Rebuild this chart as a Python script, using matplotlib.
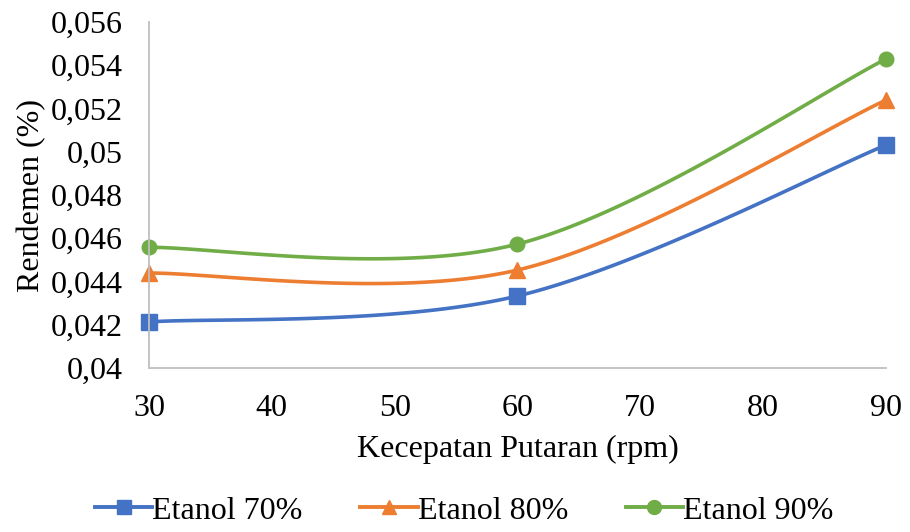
import numpy as np
import matplotlib
matplotlib.use("Agg")
import matplotlib.pyplot as plt
from matplotlib.ticker import FuncFormatter, MultipleLocator

x = [30, 60, 90]
etanol70 = [0.04213, 0.04333, 0.05031]
etanol80 = [0.04439, 0.04453, 0.05239]
etanol90 = [0.04558, 0.04573, 0.05429]
labels = ["Etanol 70%", "Etanol 80%", "Etanol 90%"]
colors = ["#4472C4", "#ED7D31", "#70AD47"]
markers = ["s", "^", "o"]

plt.rcParams['font.family'] = ['Liberation Serif', 'DejaVu Serif']


def smooth(xs, ys, n=60):
    P = np.column_stack([xs, ys]).astype(float)
    out = []
    m = len(P)
    for i in range(m - 1):
        p0 = P[i - 1] if i > 0 else P[i]
        p1 = P[i]
        p2 = P[i + 1]
        p3 = P[i + 2] if i + 2 < m else P[i + 1]
        c1 = p1 + (p2 - p0) / 6.0
        c2 = p2 - (p3 - p1) / 6.0
        t = np.linspace(0, 1, n)[:, None]
        seg = ((1 - t) ** 3) * p1 + 3 * ((1 - t) ** 2) * t * c1 + 3 * (1 - t) * t ** 2 * c2 + t ** 3 * p2
        out.append(seg if i == 0 else seg[1:])
    s = np.vstack(out)
    return s[:, 0], s[:, 1]


fig = plt.figure(figsize=(9.1, 5.32), dpi=100)
ax = fig.add_axes([0.1637, 0.3083, 0.8099, 0.6503])

for ys, lab, c, mk in zip([etanol70, etanol80, etanol90], labels, colors, markers):
    sx, sy = smooth(x, ys)
    ax.plot(sx, sy, color=c, lw=2.6, solid_capstyle='round')
    ax.plot(x, ys, linestyle='none', marker=mk, color=c, markersize=11 if mk != 'o' else 10.5, clip_on=False)
    ax.plot([], [], color=c, lw=2.8, marker=mk, markersize=10, label=lab)

ax.set_xlim(30, 90)
ax.set_ylim(0.04, 0.056)
ax.xaxis.set_major_locator(MultipleLocator(10))
ax.yaxis.set_major_locator(MultipleLocator(0.002))


def fmt(v, pos):
    s = ("%.3f" % v).rstrip('0')
    if s.endswith('.'):
        s = s[:-1]
    return s.replace('.', ',')


ax.yaxis.set_major_formatter(FuncFormatter(fmt))
for sp in ['top', 'right']:
    ax.spines[sp].set_visible(False)
for sp in ['left', 'bottom']:
    ax.spines[sp].set_color('#BFBFBF')
    ax.spines[sp].set_linewidth(1.3)
ax.tick_params(length=0, labelsize=23, pad=19)
ax.tick_params(axis='x', pad=19)
ax.set_xlabel("Kecepatan Putaran (rpm)", fontsize=23, labelpad=8)
ax.set_ylabel("Rendemen (%)", fontsize=23, labelpad=3)

leg = fig.legend(loc='lower center', bbox_to_anchor=(0.51, -0.042), ncol=3, frameon=False,
                 fontsize=23, handlelength=1.8, handletextpad=0.0, columnspacing=1.8)

fig.savefig("out.png", dpi=100)
